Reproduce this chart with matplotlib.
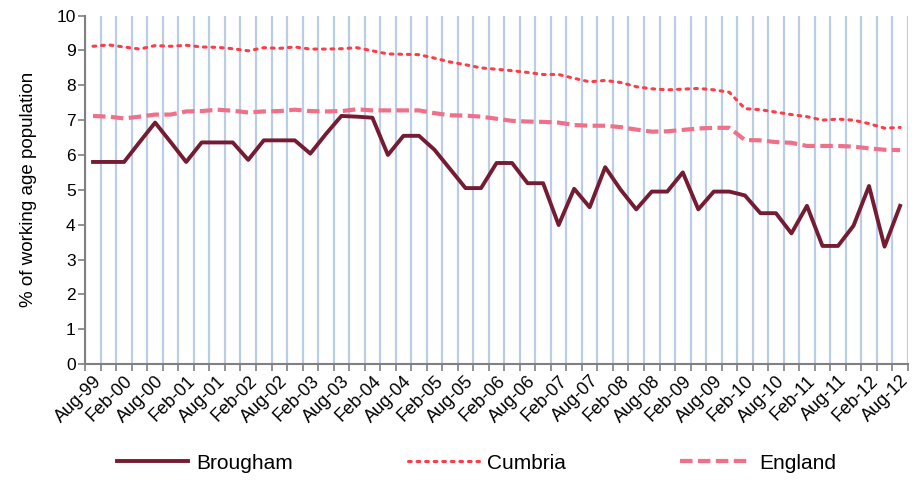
import numpy as np
import matplotlib
matplotlib.use("Agg")
import matplotlib.pyplot as plt

plt.rcParams['font.family'] = ['Liberation Sans', 'DejaVu Sans']

# quarterly, Aug-99 .. Aug-12
quarters = ['Aug-99', 'Nov-99', 'Feb-00', 'May-00', 'Aug-00', 'Nov-00', 'Feb-01', 'May-01',
            'Aug-01', 'Nov-01', 'Feb-02', 'May-02', 'Aug-02', 'Nov-02', 'Feb-03', 'May-03',
            'Aug-03', 'Nov-03', 'Feb-04', 'May-04', 'Aug-04', 'Nov-04', 'Feb-05', 'May-05',
            'Aug-05', 'Nov-05', 'Feb-06', 'May-06', 'Aug-06', 'Nov-06', 'Feb-07', 'May-07',
            'Aug-07', 'Nov-07', 'Feb-08', 'May-08', 'Aug-08', 'Nov-08', 'Feb-09', 'May-09',
            'Aug-09', 'Nov-09', 'Feb-10', 'May-10', 'Aug-10', 'Nov-10', 'Feb-11', 'May-11',
            'Aug-11', 'Nov-11', 'Feb-12', 'May-12', 'Aug-12']

brougham = [5.8, 5.8, 5.8, 6.37, 6.93, 6.37, 5.8, 6.36, 6.36, 6.36, 5.86, 6.42, 6.42, 6.42,
            6.04, 6.6, 7.12, 7.1, 7.07, 6.0, 6.55, 6.55, 6.15, 5.6, 5.05, 5.05, 5.77, 5.77,
            5.19, 5.19, 3.99, 5.03, 4.5, 5.65, 5.0, 4.44, 4.95, 4.95, 5.5, 4.44, 4.95, 4.95,
            4.84, 4.33, 4.33, 3.75, 4.54, 3.39, 3.39, 3.97, 5.11, 3.37, 4.54]

cumbria = [9.12, 9.16, 9.1, 9.04, 9.14, 9.12, 9.15, 9.1, 9.09, 9.05, 8.99, 9.08, 9.06, 9.1,
           9.04, 9.04, 9.05, 9.08, 8.99, 8.9, 8.89, 8.88, 8.78, 8.67, 8.59, 8.5, 8.46, 8.42,
           8.37, 8.31, 8.31, 8.2, 8.1, 8.14, 8.08, 7.96, 7.9, 7.87, 7.89, 7.91, 7.87, 7.8,
           7.33, 7.3, 7.23, 7.16, 7.1, 7.0, 7.03, 7.0, 6.9, 6.77, 6.79]

england = [7.12, 7.1, 7.05, 7.1, 7.16, 7.16, 7.25, 7.26, 7.3, 7.27, 7.22, 7.25, 7.26, 7.3,
           7.26, 7.25, 7.26, 7.31, 7.28, 7.28, 7.28, 7.28, 7.2, 7.14, 7.13, 7.1, 7.04, 6.98,
           6.96, 6.95, 6.93, 6.86, 6.84, 6.84, 6.8, 6.73, 6.67, 6.68, 6.72, 6.76, 6.78, 6.78,
           6.43, 6.42, 6.37, 6.35, 6.26, 6.26, 6.26, 6.24, 6.19, 6.15, 6.14]

x = np.arange(len(quarters))

fig = plt.figure(figsize=(9.17, 4.88), dpi=100)
ax = fig.add_axes([0.093, 0.254, 0.897, 0.714])

ax.plot(x, brougham, color='#761C32', lw=2.8, label='Brougham')
ax.plot(x, cumbria, color='#FF3B47', lw=2.2, linestyle=(0, (0.9, 1.9)),
        dash_capstyle='round', label='Cumbria')
ax.plot(x, england, color='#EF7088', lw=3.0, linestyle=(0, (3, 1.3)), label='England')

ax.set_xlim(-0.5, len(quarters) - 0.5)
ax.set_ylim(0, 10)
ax.set_yticks(range(0, 11))

# labels every 6 months, tick marks between quarters
ax.set_xticks(x[::2])
ax.set_xticklabels(quarters[::2], rotation=45, ha='right', rotation_mode='anchor')
ax.set_xticks(np.arange(-0.5, len(quarters)), minor=True)
ax.tick_params(axis='x', which='major', length=0, labelsize=13, pad=6)
ax.tick_params(axis='x', which='minor', length=5, color='#808080', width=1.2)
ax.tick_params(axis='y', length=5, color='#808080', width=1.2, labelsize=12.5, pad=2)
ax.grid(axis='x', which='minor', color='#B9CDE5', lw=1.6)
ax.set_axisbelow(True)

for s in ['top', 'right']:
    ax.spines[s].set_visible(False)
for s in ['left', 'bottom']:
    ax.spines[s].set_color('#808080')
    ax.spines[s].set_linewidth(1.5)

ax.set_ylabel('% of working age population', fontsize=13.5, labelpad=14)

fig.legend(loc='center', bbox_to_anchor=(0.52, 0.051), ncol=3, frameon=False,
           fontsize=15, handlelength=3.4, columnspacing=5.5, handletextpad=0.4)

fig.savefig('out.png', dpi=100)
